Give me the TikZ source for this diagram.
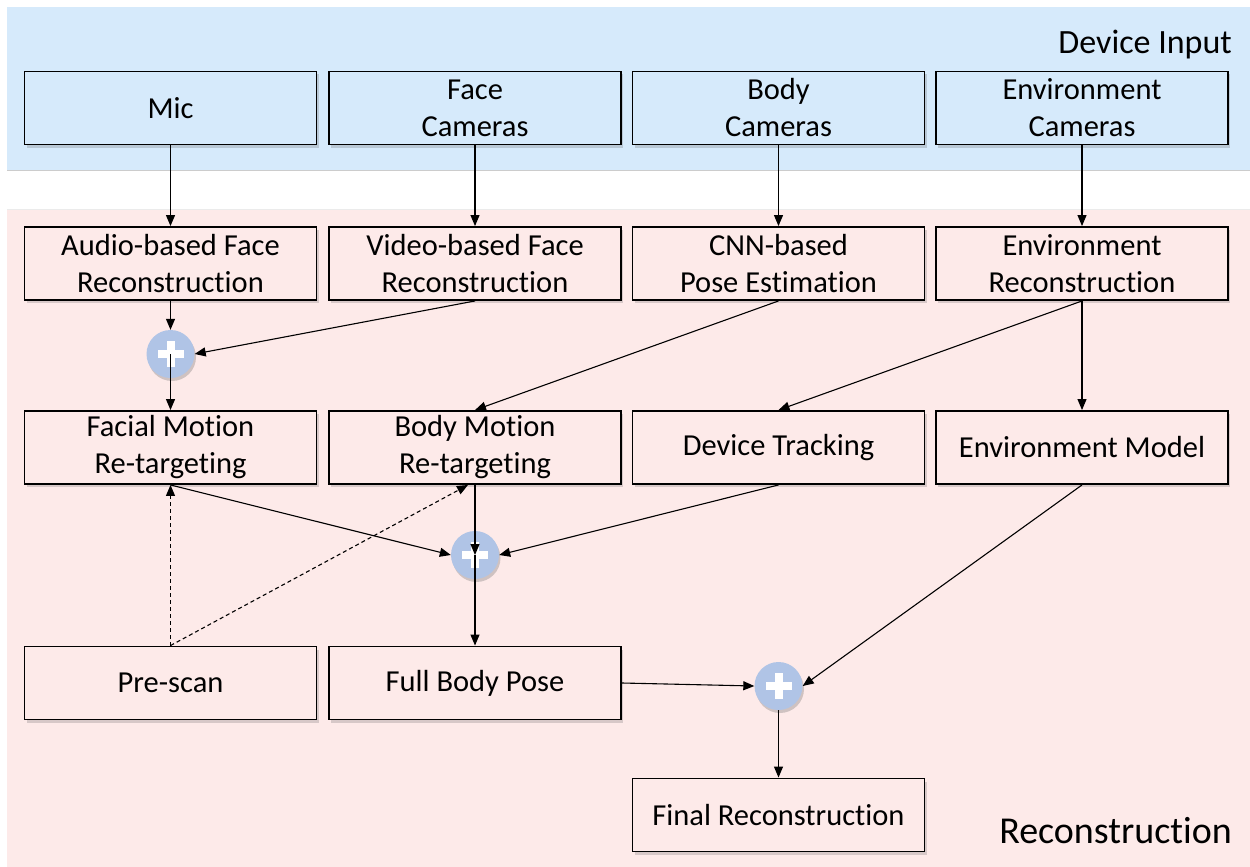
\documentclass[tikz,border=0pt]{standalone}
\usepackage{fontspec}
\setmainfont{Carlito}[Ligatures=NoCommon]
\usetikzlibrary{arrows.meta,shadows}
\definecolor{bandblue}{RGB}{214,234,251}
\definecolor{bandpink}{RGB}{253,234,233}
\definecolor{plusblue}{RGB}{176,196,230}
\begin{document}
\begin{tikzpicture}[x=1pt,y=-1pt,
  box/.style={draw=black, line width=1.9pt, minimum width=292pt, minimum height=73pt,
    align=center, inner sep=0pt, font=\fontsize{30.5}{37}\selectfont,
    drop shadow={shadow xshift=2pt, shadow yshift=-3pt, opacity=0.25, fill=black!60}},
  inbox/.style={box, fill=bandblue},
  recbox/.style={box, fill=bandpink},
  plusnode/.style={circle, fill=plusblue, minimum size=48pt, inner sep=0pt,
    drop shadow={shadow xshift=1.5pt, shadow yshift=-3pt, opacity=0.3, fill=black!60},
    path picture={
      \fill[white] ([xshift=-13pt,yshift=-4pt]path picture bounding box.center) rectangle ([xshift=13pt,yshift=4pt]path picture bounding box.center);
      \fill[white] ([xshift=-4pt,yshift=-13pt]path picture bounding box.center) rectangle ([xshift=4pt,yshift=13pt]path picture bounding box.center);
    }},
  arr/.style={-{Triangle[length=11pt,width=9pt]}, line width=1.1pt, black},
  dasharr/.style={arr, dash pattern=on 4pt off 3pt},
  bandlabel/.style={inner sep=0pt}
]
\useasboundingbox (0,0) rectangle (1250,867);
\fill[white] (0,0) rectangle (1250,867);
% bands
\fill[bandblue] (7,7) rectangle (1250,170);
\draw[black!20, line width=1pt] (7,170) -- (1250,170);
\fill[bandpink] (7,209) rectangle (1250,867);
\draw[black!8, line width=1pt] (7,209) -- (1250,209);

\node[bandlabel, anchor=base east, font=\fontsize{34}{40}\selectfont] (devin) at (1232,54) {Device Input};
\node[bandlabel, anchor=base east, font=\fontsize{38}{45}\selectfont] (recon) at (1232,843) {Reconstruction};

% input row
\node[inbox] (mic) at (170.5,108) {Mic};
\node[inbox] (face) at (475,108) {Face\\Cameras};
\node[inbox] (body) at (778.5,108) {Body\\Cameras};
\node[inbox] (envc) at (1082,108) {Environment\\Cameras};

% row 2
\node[recbox] (audio) at (170.5,263.5) {Audio-based Face\\Reconstruction};
\node[recbox] (video) at (475,263.5) {Video-based Face\\Reconstruction};
\node[recbox] (cnn) at (778.5,263.5) {CNN-based\\Pose Estimation};
\node[recbox] (envr) at (1082,263.5) {Environment\\Reconstruction};

% row 3
\node[recbox] (facial) at (170.5,447.5) {Facial Motion\\Re-targeting};
\node[recbox] (bodym) at (475,447.5) {Body Motion\\Re-targeting};
\node[recbox] (dtrack) at (778.5,447.5) {Device Tracking};
\node[recbox] (envm) at (1082,447.5) {Environment Model};

% row 4
\node[recbox] (prescan) at (170.5,683) {Pre-scan};
\node[recbox] (fbody) at (475,683) {Full Body Pose};
\node[recbox] (final) at (778.5,815) {Final Reconstruction};

% plus circles
\node[plusnode] (p1) at (170.5,354) {};
\node[plusnode] (p2) at (475,555) {};
\node[plusnode] (p3) at (778.5,686) {};

% connectors
\draw[arr] (mic.south) -- (audio.north);
\draw[arr] (face.south) -- (video.north);
\draw[arr] (body.south) -- (cnn.north);
\draw[arr] (envc.south) -- (envr.north);

\draw[arr] (audio.south) -- (p1.north);
\draw[arr] (video.south) -- (p1.east);
\draw[arr] (p1.center) -- (facial.north);

\draw[arr] (cnn.south) -- (bodym.north);
\draw[arr] (envr.south) -- (dtrack.north);
\draw[arr] (envr.south) -- (envm.north);

\draw[arr] (facial.south) -- (p2.west);
\draw[arr] (bodym.south) -- (p2.center);
\draw[arr] (dtrack.south) -- (p2.east);
\draw[arr] (p2.center) -- (fbody.north);

\draw[dasharr] (prescan.north) -- (facial.south);
\draw[dasharr] (prescan.north) -- ([xshift=-7pt]bodym.south);

\draw[arr] (fbody.east) -- (p3.west);
\draw[arr] (envm.south) -- (p3.east);
\draw[arr] (p3.south) -- (final.north);
\end{tikzpicture}
\end{document}
